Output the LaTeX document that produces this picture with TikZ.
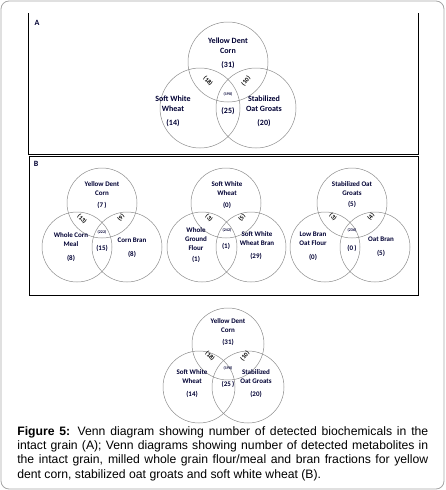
\documentclass[tikz,border=0pt]{standalone}
\usepackage{fontspec}
\setmainfont{Liberation Sans}
\newfontfamily\vennfont{Carlito}
\usetikzlibrary{positioning,calc}

\begin{document}
\begin{tikzpicture}[x=1pt, y=-1pt, semithick]
		\tikzstyle{vennset}=[circle, draw=black!45, line width=0.5pt, inner sep=0pt]
		\tikzstyle{labA}=[font=\vennfont\bfseries\fontsize{8}{10}\selectfont, align=center, inner sep=0pt, text=black!80!blue]
		\tikzstyle{labB}=[font=\vennfont\bfseries\fontsize{7}{9}\selectfont, align=center, inner sep=0pt, text=black!80!blue]
		\tikzstyle{tinylab}=[font=\vennfont\bfseries\fontsize{4}{4}\selectfont, inner sep=0pt, text=black!80!blue]
		\tikzstyle{pairlab}=[font=\vennfont\bfseries\fontsize{6.2}{6.2}\selectfont, inner sep=0pt, text=black]
		\tikzstyle{panelbox}=[draw=black, line width=0.7pt]
		\useasboundingbox (0,0) rectangle (445,490);
		\draw[black!35, line width=0.8pt, rounded corners=8pt] (1,1) rectangle (444,489);

		% panel A
		\begin{scope}
			\draw[panelbox] (28,13) -- (28,154) -- (418,154) -- (418,13);
			\node[labA] (Aname) at (37,23) {A};
			\node[vennset, minimum size=80pt] (Acorn) at (228,62) {};
			\node[vennset, minimum size=80pt] (Awheat) at (200,108) {};
			\node[vennset, minimum size=80pt] (Aoat) at (256,108) {};
			\node[labA] (Acornname) at (228,46) {Yellow Dent\\Corn}; \node[labA] (Acornnum) at (228,65) {(31)};
			\node[labA] (Awheatname) at (173,104) {Soft White\\Wheat}; \node[labA] (Awheatnum) at (173,123) {(14)};
			\node[labA] (Aoatname) at (264,104) {Stabilized\\Oat Groats}; \node[labA] (Aoatnum) at (264,123) {(20)};
			\node[labA] (Amid) at (228,111) {(25)}; \node[tinylab] (Aall) at (228,94) {(190)};
			\node[pairlab, rotate=-45] (Acw) at (208,81) {(18)}; \node[pairlab, rotate=50] (Aco) at (246,81) {(10)};
		\end{scope}

		% panel B
		\begin{scope}
			\draw[panelbox] (29,156) rectangle (418,295);
			\node[labA] (Bname) at (36,164) {B};
			% corn
			\node[vennset, minimum size=70pt] (Bcorn) at (102,203) {};
			\node[vennset, minimum size=70pt] (Bmeal) at (77,247) {};
			\node[vennset, minimum size=70pt] (Bcbran) at (127,247) {};
			\node[labB] (Bcornname) at (102,188.5) {Yellow Dent\\Corn}; \node[labB] (Bcornnum) at (102,205) {(7\,)};
			\node[labB] (Bmealname) at (71,239.5) {Whole Corn\\Meal}; \node[labB] (Bmealnum) at (71,258) {(8)};
			\node[labB] (Bcbranname) at (132,240) {Corn Bran}; \node[labB] (Bcbrannum) at (132,254) {(8)};
			\node[labB] (Bcmid) at (102,248) {(15)}; \node[tinylab] (Bcall) at (102,232) {(222)};
			\node[pairlab, rotate=-45] (Bcl) at (82,219) {(13)}; \node[pairlab, rotate=50] (Bcr) at (121,218) {(9)};
			% wheat
			\node[vennset, minimum size=70pt] (Bwheat) at (226,203) {};
			\node[vennset, minimum size=70pt] (Bflour) at (202,247) {};
			\node[vennset, minimum size=70pt] (Bwbran) at (251,247) {};
			\node[labB] (Bwheatname) at (227,189) {Soft White\\Wheat}; \node[labB] (Bwheatnum) at (227,205) {(0)};
			\node[labB] (Bflourname) at (196,239) {Whole\\Ground\\Flour}; \node[labB] (Bflournum) at (196,259) {(1)};
			\node[labB] (Bwbranname) at (257,238.5) {Soft White\\Wheat Bran}; \node[labB] (Bwbrannum) at (256,256) {(29)};
			\node[labB] (Bwmid) at (226,246) {(1)}; \node[tinylab] (Bwall) at (227,230) {(242)};
			\node[pairlab, rotate=-45] (Bwl) at (209,218) {(3)}; \node[pairlab, rotate=50] (Bwr) at (242,218) {(5)};
			% oat
			\node[vennset, minimum size=70pt] (Boat) at (352,203) {};
			\node[vennset, minimum size=70pt] (Boflour) at (325,247) {};
			\node[vennset, minimum size=70pt] (Bobran) at (375,247) {};
			\node[labB] (Boatname) at (352,188.5) {Stabilized Oat\\Groats}; \node[labB] (Boatnum) at (352,204) {(5)};
			\node[labB] (Bofloarname) at (313,239) {Low Bran\\Oat Flour}; \node[labB] (Boflournum) at (313,257) {(0)};
			\node[labB] (Bobranname) at (381,239) {Oat Bran}; \node[labB] (Bobrannum) at (381,253) {(5)};
			\node[labB] (Bomid) at (352,248) {(0\,)}; \node[tinylab] (Boall) at (352,230) {(236)};
			\node[pairlab, rotate=-45] (Bol) at (333,217) {(3)}; \node[pairlab, rotate=50] (Bor) at (371,217) {(4)};
		\end{scope}

		% lower copy of A
		\begin{scope}
			\node[vennset, minimum size=72pt] (Ccorn) at (228,344) {};
			\node[vennset, minimum size=72pt] (Cwheat) at (199,387) {};
			\node[vennset, minimum size=72pt] (Coat) at (248,387) {};
			\node[labB] (Ccornname) at (228,325.5) {Yellow Dent\\Corn}; \node[labB] (Ccornnum) at (228,342) {(31)};
			\node[labB] (Cwheatname) at (192,376.5) {Soft White\\Wheat}; \node[labB] (Cwheatnum) at (192,394) {(14)};
			\node[labB] (Coatname) at (256,376.5) {Stabilized\\Oat Groats}; \node[labB] (Coatnum) at (256,394) {(20)};
			\node[labB] (Cmid) at (228,384) {(25\,)}; \node[tinylab] (Call) at (228,368) {(190)};
			\node[pairlab, rotate=-45] (Ccw) at (210,356) {(18)}; \node[pairlab, rotate=50] (Cco) at (245,356) {(10)};
		\end{scope}

		\node[anchor=north west, inner sep=0pt, text width=411pt, align=justify, font=\fontsize{12.2}{14.3}\selectfont] (caption) at (17,426)
		{\textbf{Figure 5:} Venn diagram showing number of detected biochemicals in the\linebreak intact grain (A); Venn diagrams showing number of detected metabolites in\linebreak the intact grain, milled whole grain flour/meal and bran fractions for yellow\linebreak dent corn, stabilized oat groats and soft white wheat (B).};
	\end{tikzpicture}
\end{document}
